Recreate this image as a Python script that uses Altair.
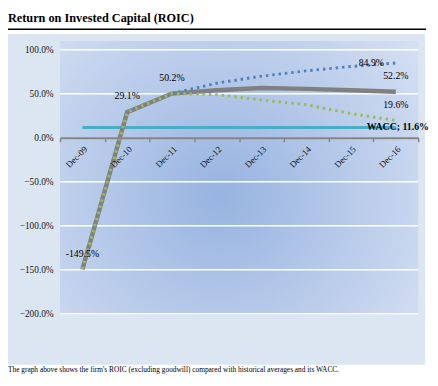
import altair as alt
import pandas as pd

categories = ["Dec-09", "Dec-10", "Dec-11", "Dec-12", "Dec-13", "Dec-14", "Dec-15", "Dec-16"]
roic = [-149.5, 29.1, 50.2, 54.0, 56.5, 55.5, 54.0, 52.2]
hist_high = [None, None, 50.2, 62.0, 70.0, 76.0, 81.0, 84.9]
hist_low = [-149.5, 29.1, 50.2, 49.0, 43.0, 37.5, 27.5, 19.6]
wacc = [11.6] * 8
y_ticks = [100, 50, 0, -50, -100, -150, -200]
grid_vals = [100, 50, -50, -100, -150, -200]

title_text = "Return on Invested Capital (ROIC)"
footer_text = "The graph above shows the firm's ROIC (excluding goodwill) compared with historical averages and its WACC."

FONT = "Liberation Serif"

def frame(vals):
    return pd.DataFrame({"cat": categories, "v": vals}).dropna()

df_roic = frame(roic)
df_high = frame(hist_high)
df_low = frame(hist_low)
df_wacc = frame(wacc)

W, H = 365, 269
xscale = alt.Scale(type="band", domain=categories, paddingInner=0, paddingOuter=0)
yscale = alt.Scale(domain=[-200, 100], nice=False, zero=False)

X = alt.X("cat:N", scale=xscale, title=None,
          axis=alt.Axis(offset=-(H * 200 / 300), labelAngle=-45, tickBand="extent",
                        domainColor="#868686", domainWidth=2, tickColor="#868686",
                        tickSize=4, tickWidth=1.5, labelFont=FONT, labelFontSize=9,
                        labelColor="#111", labelPadding=3, grid=False, zindex=1))
Y = alt.Y("v:Q", scale=yscale, title=None,
          axis=alt.Axis(values=y_ticks, labelExpr="format(datum.value, '.1f') + '%'",
                        domain=False, ticks=False, grid=False,
                        labelFont=FONT, labelFontSize=9.5,
                        labelColor="#111", labelPadding=7, zindex=1))

outer = alt.Chart(pd.DataFrame({"a": [0]})).mark_rect(fill="#dce6f2").encode(
    x=alt.value(-53), x2=alt.value(372), y=alt.value(-16), y2=alt.value(321))

grad = alt.RadialGradient(
    gradient="radial",
    stops=[alt.GradientStop(color="#97b3e0", offset=0),
           alt.GradientStop(color="#dae3f4", offset=1)],
    x1=0.45, y1=0.55, r1=0, x2=0.45, y2=0.55, r2=0.75)
inner = alt.Chart(pd.DataFrame({"a": [0]})).mark_rect(fill=grad).encode(
    x=alt.value(0), x2=alt.value(W), y=alt.value(-9), y2=alt.value(H + 1))

grid = alt.Chart(pd.DataFrame({"v": grid_vals})).mark_rule(color="white", strokeWidth=1.5).encode(
    y=Y, x=alt.value(0), x2=alt.value(W))

title_rule = alt.Chart(pd.DataFrame({"a": [0]})).mark_rule(color="black", strokeWidth=1.5).encode(
    x=alt.value(-53), x2=alt.value(W + 8), y=alt.value(-21))
title = alt.Chart(pd.DataFrame({"t": [title_text]})).mark_text(
    align="left", baseline="alphabetic", font=FONT, fontSize=12.5, fontWeight="bold", color="black"
).encode(text="t:N", x=alt.value(-53), y=alt.value(-28))
footer = alt.Chart(pd.DataFrame({"t": [footer_text]})).mark_text(
    align="left", baseline="alphabetic", font=FONT, fontSize=7.5, color="black"
).encode(text="t:N", x=alt.value(-53), y=alt.value(328))

wacc_line = alt.Chart(df_wacc).mark_line(color="#4bacc6", strokeWidth=3).encode(x=X, y=Y)
roic_line = alt.Chart(df_roic).mark_line(color="#808080", strokeWidth=4.5).encode(x=X, y=Y)
high_line = alt.Chart(df_high).mark_line(color="#4f81bd", strokeWidth=3, strokeDash=[2.5, 4]).encode(x=X, y=Y)
low_line = alt.Chart(df_low).mark_line(color="#9bbb59", strokeWidth=3, strokeDash=[2.5, 4]).encode(x=X, y=Y)

def lbl(df, **kw):
    df = df.copy()
    df["t"] = df["v"].map(lambda v: f"{v:.1f}%")
    return alt.Chart(df).mark_text(font=FONT, fontSize=10, color="black", **kw).encode(
        x=X, y=Y, text="t:N")

roic_lbl = lbl(df_roic[df_roic["cat"].isin(["Dec-09", "Dec-10", "Dec-11", "Dec-16"])], dy=-16)
high_lbl = lbl(df_high.tail(1), dx=-25)
low_lbl = lbl(df_low.tail(1), dy=-16)
wdf = df_wacc.tail(1).copy()
wdf["t"] = wdf["v"].map(lambda v: f"WACC; {v:.1f}%")
wacc_lbl = alt.Chart(wdf).mark_text(font=FONT, fontSize=10, fontWeight="bold", color="black", dx=2).encode(
    x=X, y=Y, text="t:N")

chart = alt.layer(
    outer, inner, grid, title_rule, title, footer,
    wacc_line, roic_line, high_line, low_line,
    roic_lbl, high_lbl, low_lbl, wacc_lbl
).properties(
    width=W, height=H,
    autosize=alt.AutoSizeParams(type="none"),
    padding={"left": 53, "top": 39, "right": 12, "bottom": 66},
    background="white",
).configure_view(stroke=None)

chart.save("out.html", embed_options={"renderer": "svg", "actions": False})
